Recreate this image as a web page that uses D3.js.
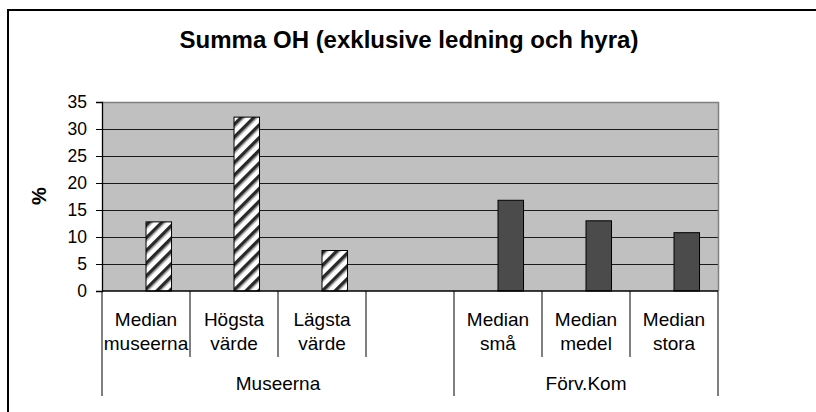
<!DOCTYPE html>
<html>
<head>
<meta charset="utf-8">
<script src="https://cdn.jsdelivr.net/npm/d3@7"></script>
<style>
  html, body { margin: 0; background: #fff; overflow: hidden; }
  svg { display: block; }
  text { font-family: "Liberation Sans", Arial, sans-serif; fill: #000; }
</style>
</head>
<body>
<div id="chart"></div>
<script>
// categories, two-line labels (the 4th slot is empty in the original)
var categories = ["c0", "c1", "c2", "c3", "c4", "c5", "c6"];
var catLabels = [
  ["Median", "museerna"],
  ["Högsta", "värde"],
  ["Lägsta", "värde"],
  [],
  ["Median", "små"],
  ["Median", "medel"],
  ["Median", "stora"]
];
// outer grouping of the categories
var groups = ["Museerna", "Förv.Kom"];
var groupSpans = [[0, 3], [4, 6]];

// series values (%)
var museerna = [12.8, 32.2, 7.5, null, null, null, null];
var forvkom = [null, null, null, null, 16.8, 13.0, 10.8];

var yTicks = [0, 5, 10, 15, 20, 25, 30, 35];

var width = 816, height = 412;
var margin = { left: 102, right: 98, top: 102, bottom: 121 };

var svg = d3.select("#chart").append("svg")
  .attr("width", width)
  .attr("height", height);

// hatch pattern for the museum bars
var defs = svg.append("defs");
var hatch = defs.append("pattern")
  .attr("id", "hatch")
  .attr("patternUnits", "userSpaceOnUse")
  .attr("width", 9)
  .attr("height", 9)
  .attr("patternTransform", "rotate(45)");
hatch.append("rect").attr("width", 9).attr("height", 9).attr("fill", "#fff");
hatch.append("rect").attr("x", 0).attr("width", 3.5).attr("height", 9).attr("fill", "#2a2a2a");
hatch.append("rect").attr("x", 3.5).attr("width", 1).attr("height", 9).attr("fill", "#888");

// outer frame: only left and top are inside the picture
svg.append("path")
  .attr("d", "M8," + height + "V10H" + width)
  .attr("fill", "none")
  .attr("stroke", "#000")
  .attr("stroke-width", 2);

var x = d3.scaleBand()
  .domain(categories)
  .range([margin.left, width - margin.right]);

var y = d3.scaleLinear()
  .domain([0, 35])
  .range([height - margin.bottom, margin.top]);

var plotTop = y(35), plotBottom = y(0);
var plotLeft = x.range()[0], plotRight = x.range()[1];

// plot background
svg.append("rect")
  .attr("x", plotLeft).attr("y", plotTop)
  .attr("width", plotRight - plotLeft)
  .attr("height", plotBottom - plotTop)
  .attr("fill", "#c0c0c0");

// gridlines
svg.append("g")
  .selectAll("line")
  .data(yTicks.filter(function(d) { return d > 0 && d < 35; }))
  .enter().append("line")
    .attr("x1", plotLeft).attr("x2", plotRight)
    .attr("y1", function(d) { return Math.round(y(d)) + 0.5; })
    .attr("y2", function(d) { return Math.round(y(d)) + 0.5; })
    .attr("stroke", "#1a1a1a")
    .attr("stroke-width", 1.2);

// gray border top and right
svg.append("path")
  .attr("d", "M" + plotLeft + "," + (plotTop + 0.5) + "H" + (plotRight + 0.5) + "V" + plotBottom)
  .attr("fill", "none")
  .attr("stroke", "#808080")
  .attr("stroke-width", 1.5);

var barW = x.bandwidth() * 0.29;

function drawBars(values, fill) {
  svg.append("g")
    .selectAll("rect")
    .data(values.map(function(v, i) { return { cat: categories[i], v: v }; })
      .filter(function(d) { return d.v != null; }))
    .enter().append("rect")
      .attr("x", function(d) { return x(d.cat) + x.bandwidth() / 2; })
      .attr("y", function(d) { return y(d.v); })
      .attr("width", barW)
      .attr("height", function(d) { return y(0) - y(d.v); })
      .attr("fill", fill)
      .attr("stroke", "#000")
      .attr("stroke-width", 1);
}
drawBars(museerna, "url(#hatch)");
drawBars(forvkom, "#4b4b4b");

// y axis
var yAxis = svg.append("g")
  .attr("transform", "translate(" + plotLeft + ",0)")
  .call(d3.axisLeft(y).tickValues(yTicks).tickSize(6).tickPadding(9));
yAxis.select(".domain").attr("stroke", "#000").attr("stroke-width", 1.3);
yAxis.selectAll(".tick line").attr("stroke", "#000");
yAxis.selectAll(".tick text")
  .attr("font-size", 17.5)
  .attr("font-family", "Liberation Sans, Arial, sans-serif")
  .attr("fill", "#000");

// x axis line
svg.append("line")
  .attr("x1", plotLeft).attr("x2", plotRight)
  .attr("y1", plotBottom).attr("y2", plotBottom)
  .attr("stroke", "#000")
  .attr("stroke-width", 1.5);

// category dividers (short) and group dividers (long)
var edges = d3.range(categories.length + 1);
var groupEdges = [0, 4, 7];
svg.append("g")
  .selectAll("line")
  .data(edges)
  .enter().append("line")
    .attr("x1", function(i) { return i < categories.length ? x(categories[i]) : plotRight; })
    .attr("x2", function(i) { return i < categories.length ? x(categories[i]) : plotRight; })
    .attr("y1", plotBottom)
    .attr("y2", function(i) { return groupEdges.indexOf(i) >= 0 ? 396 : 357; })
    .attr("stroke", "#000")
    .attr("stroke-width", 1);

// category labels
var catG = svg.append("g")
  .selectAll("text")
  .data(catLabels)
  .enter().append("text")
    .attr("text-anchor", "middle")
    .attr("font-size", 19)
    .attr("x", function(d, i) { return x(categories[i]) + x.bandwidth() / 2; })
    .attr("y", 326);
catG.selectAll("tspan")
  .data(function(d) { return d; })
  .enter().append("tspan")
    .attr("x", function() { return d3.select(this.parentNode).attr("x"); })
    .attr("dy", function(d, j) { return j === 0 ? 0 : 24; })
    .text(function(d) { return d; });

// group labels
svg.append("g")
  .selectAll("text")
  .data(groups)
  .enter().append("text")
    .attr("text-anchor", "middle")
    .attr("font-size", 19)
    .attr("x", function(d, i) {
      var s = groupSpans[i];
      return (x(categories[s[0]]) + x(categories[s[1]]) + x.bandwidth()) / 2;
    })
    .attr("y", 390)
    .text(function(d) { return d; });

// y axis title
svg.append("text")
  .attr("transform", "translate(46,196) rotate(-90)")
  .attr("text-anchor", "middle")
  .attr("font-size", 20)
  .attr("font-weight", "bold")
  .text("%");

// chart title
svg.append("text")
  .attr("x", 409)
  .attr("y", 48)
  .attr("text-anchor", "middle")
  .attr("font-size", 24)
  .attr("font-weight", "bold")
  .text("Summa OH (exklusive ledning och hyra)");
</script>
</body>
</html>
